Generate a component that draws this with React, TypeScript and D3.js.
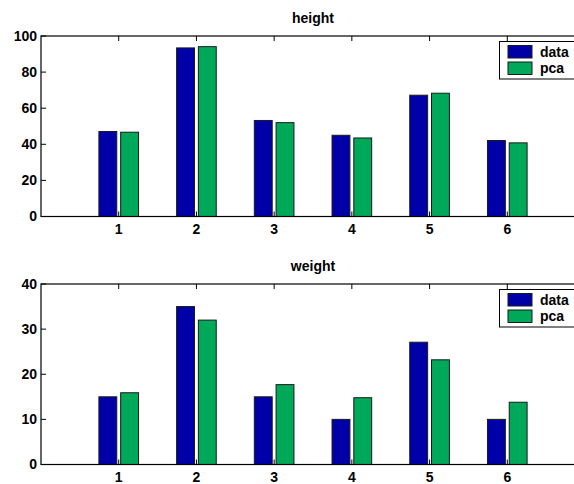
import * as d3 from "d3";

const categories = [1, 2, 3, 4, 5, 6];
const heightData = [47.1, 93.4, 53.2, 45.0, 67.2, 42.1];
const heightPca = [46.7, 94.1, 52.0, 43.5, 68.3, 40.8];
const weightData = [15.0, 35.0, 15.0, 10.0, 27.1, 10.0];
const weightPca = [15.9, 32.0, 17.7, 14.8, 23.2, 13.8];
const heightTicks = [0, 20, 40, 60, 80, 100];
const weightTicks = [0, 10, 20, 30, 40];
const seriesNames = ["data", "pca"];
const colors = ["#0000a8", "#00a85a"];

const W = 574;
const H = 484;
const FONT = "'Liberation Sans', Arial, sans-serif";
const FS = 14;

interface PanelProps {
  title: string;
  top: number;
  bottom: number;
  yMax: number;
  ticks: number[];
  series: number[][];
}

function Panel({ title, top, bottom, yMax, ticks, series }: PanelProps) {
  const left = 41;
  const right = 585;
  const x = d3.scaleLinear().domain([0, 7]).range([left, right]);
  const y = d3.scaleLinear().domain([0, yMax]).range([bottom, top]);
  const barW = x(0.23) - x(0);
  const offsets = [-0.14, 0.14];

  return (
    <g>
      <text
        x={(left + right) / 2}
        y={top - 13.5}
        textAnchor="middle"
        fontSize={FS}
        fontWeight="bold"
        fontFamily={FONT}
      >
        {title}
      </text>
      {series.map((vals, s) =>
        vals.map((v, i) => (
          <rect
            key={`${s}-${i}`}
            x={x(categories[i] + offsets[s]) - barW / 2}
            y={y(v)}
            width={barW}
            height={y(0) - y(v)}
            fill={colors[s]}
            stroke="#1a1a1a"
            strokeWidth={1}
          />
        ))
      )}
      {/* box */}
      <rect
        x={left}
        y={top}
        width={right - left}
        height={bottom - top}
        fill="none"
        stroke="#000"
        strokeWidth={1.2}
      />
      {categories.map((c) => (
        <g key={c}>
          <line x1={x(c)} x2={x(c)} y1={bottom} y2={bottom - 5} stroke="#000" />
          <line x1={x(c)} x2={x(c)} y1={top} y2={top + 5} stroke="#000" />
          <text
            x={x(c)}
            y={bottom + 17}
            textAnchor="middle"
            fontSize={FS}
            fontWeight="bold"
            fontFamily={FONT}
          >
            {c}
          </text>
        </g>
      ))}
      {ticks.map((t) => (
        <g key={t}>
          <line x1={left} x2={left + 5} y1={y(t)} y2={y(t)} stroke="#000" />
          <text
            x={left - 4}
            y={y(t)}
            dy="0.35em"
            textAnchor="end"
            fontSize={FS}
            fontWeight="bold"
            fontFamily={FONT}
          >
            {t}
          </text>
        </g>
      ))}
      {/* legend */}
      <rect
        x={499.5}
        y={top + 5.5}
        width={120}
        height={37.5}
        fill="#fff"
        stroke="#000"
        strokeWidth={1}
      />
      {seriesNames.map((name, s) => (
        <g key={name}>
          <rect
            x={508}
            y={top + 9.5 + s * 16.5}
            width={24}
            height={12.5}
            fill={colors[s]}
            stroke="#1a1a1a"
            strokeWidth={1}
          />
          <text
            x={540}
            y={top + 16 + s * 16.5}
            dy="0.35em"
            fontSize={FS}
            fontWeight="bold"
            fontFamily={FONT}
          >
            {name}
          </text>
        </g>
      ))}
    </g>
  );
}

export default function App() {
  return (
    <svg
      width={W}
      height={H}
      style={{ position: "absolute", left: 0, top: 0, background: "#fff" }}
    >
      <rect width={W} height={H} fill="#fff" />
      <Panel
        title="height"
        top={36}
        bottom={216.5}
        yMax={100}
        ticks={heightTicks}
        series={[heightData, heightPca]}
      />
      <Panel
        title="weight"
        top={284}
        bottom={464.5}
        yMax={40}
        ticks={weightTicks}
        series={[weightData, weightPca]}
      />
    </svg>
  );
}
